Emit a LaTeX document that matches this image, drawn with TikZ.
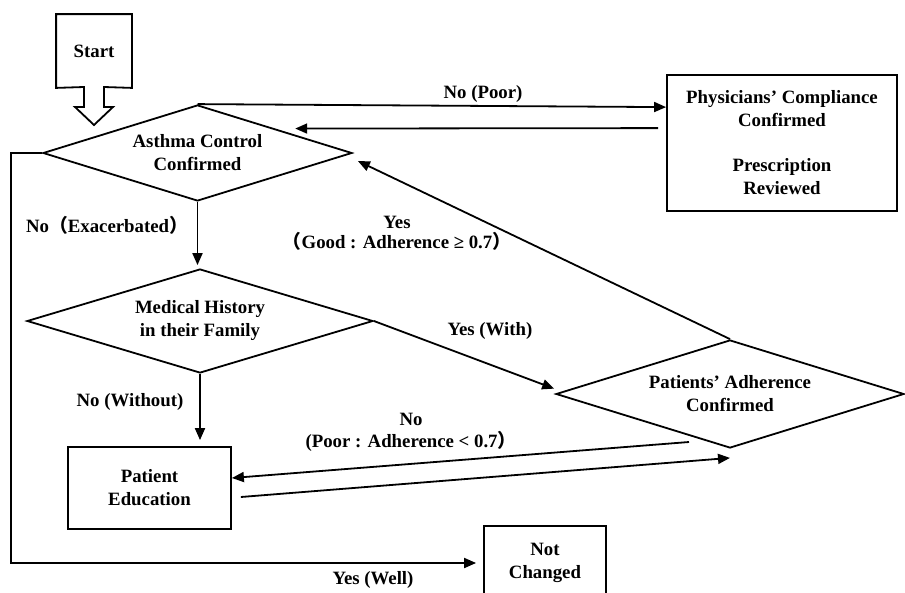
\documentclass[tikz,border=0pt]{standalone}
\usepackage{fontspec}
\setmainfont{Liberation Serif}
\newfontfamily\cjk{Noto Sans CJK SC}
\usetikzlibrary{shapes.geometric,arrows.meta,calc}
\begin{document}
\begin{tikzpicture}[x=1pt,y=-1pt,
  font=\fontsize{18.8}{23}\selectfont\bfseries,
  line width=1.8pt,
  decision/.style={diamond, draw, inner sep=0pt, aspect=3, align=center},
  procbox/.style={rectangle, draw, align=center, inner sep=0pt},
  arr/.style={-{Triangle[length=12pt,width=10pt]}},
  lbl/.style={align=center, inner sep=0pt}]
\useasboundingbox (0,0) rectangle (905,592);
\clip (0,0) rectangle (905,592);

% start
\node[inner sep=0pt, minimum width=74pt, minimum height=72pt] (start) at (94,51) {Start};
\draw (start.south west) -- (start.north west) -- (start.north east) -- (start.south east)
  -- (104,87) -- (104,107) -- (113,107) -- (94,125) -- (75,107) -- (84,107) -- (84,87) -- cycle;

% nodes
\node[decision, minimum width=309pt, minimum height=96pt] (asthma) at (197.5,153) {Asthma Control\\Confirmed};
\node[decision, minimum width=346pt, minimum height=104pt] (medical) at (200,321) {Medical History\\in their Family};
\node[decision, minimum width=348pt, minimum height=108pt] (patients) at (730,394) {Patients’ Adherence\\Confirmed};
\node[procbox, minimum width=230pt, minimum height=136pt] (phys) at (782,143)
  {Physicians’ Compliance\\Confirmed\\[22pt]Prescription\\Reviewed};
\node[procbox, minimum width=163pt, minimum height=82pt] (pedu) at (149.5,488) {Patient\\Education};
\node[procbox, minimum width=122pt, minimum height=74pt] (notc) at (545,563) {Not\\Changed};

% connectors
\draw[arr] (asthma.north) -- ([yshift=-33pt]phys.north west);
\draw[arr] ([xshift=-8pt,yshift=-54pt]phys.north west) -- ([xshift=20pt]asthma.north east);
\draw[arr, shorten >=3pt] (asthma.south) -- (asthma.south |- medical.north);
\draw[arr, shorten >=1pt] (medical.east) -- ([yshift=5pt]patients.west);
\draw[arr] (patients.north) -- ([xshift=5pt,yshift=-8pt]asthma.east);
\draw[arr, shorten >=6pt] (medical.south) -- (medical.south |- pedu.north);
\coordinate (pA) at (689,442);
\draw[arr] (pA) -- ([yshift=10pt]pedu.east);
\draw[arr] ([xshift=9pt,yshift=-9pt]pedu.east) -- ([yshift=-9pt]patients.south);
\draw[arr] (asthma.west) -- ++(-31,0) |- ([xshift=-7pt]notc.west);

% labels
\node[lbl] (lpoor) at (483,94) {No (Poor)};
\node[lbl, font=\fontsize{18.8}{20}\selectfont\bfseries] (lgood) at (397,233)
  {Yes\\{\cjk （}Good : Adherence ≥ 0.7{\cjk ）}};
\node[lbl] (lexac) at (107,225) {No{\cjk （}Exacerbated{\cjk ）}};
\node[lbl] (lwith) at (490,331) {Yes (With)};
\node[lbl] (lwithout) at (130,402) {No (Without)};
\node[lbl, font=\fontsize{18.8}{22}\selectfont\bfseries] (lpoor2) at (411,432)
  {No\\(Poor : Adherence < 0.7{\cjk ）}};
\node[lbl] (lwell) at (373,580) {Yes (Well)};
\end{tikzpicture}
\end{document}
